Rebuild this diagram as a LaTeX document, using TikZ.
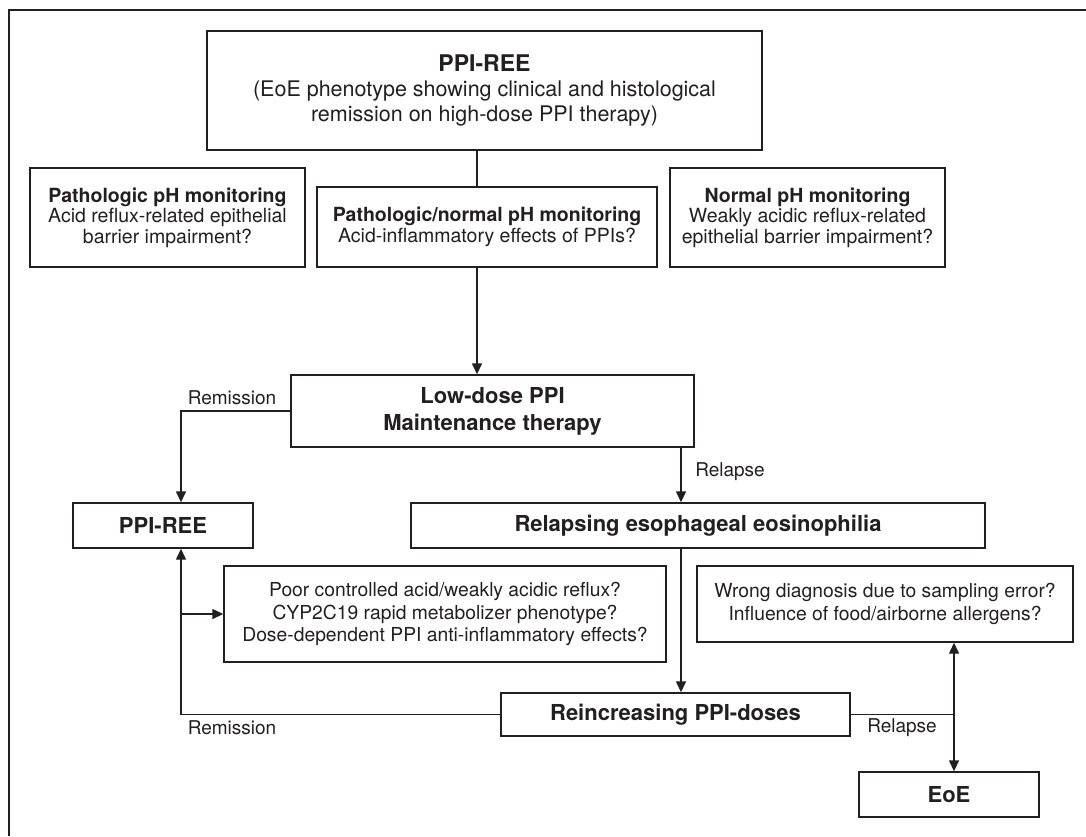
\documentclass[tikz,border=0pt]{standalone}
\usepackage{fontspec}
\setmainfont{TeX Gyre Heros}
\usepackage{tikz}
\usepackage{xcolor}
\usetikzlibrary{arrows.meta}
\definecolor{ink}{HTML}{231F20}

\begin{document}
\begin{tikzpicture}[x=1pt,y=-1pt,ink,line width=1.4pt,
  box/.style={draw,align=center,inner sep=0pt},
  mainbox/.style={box,font=\fontsize{22}{27}\selectfont\bfseries},
  phbox/.style={box,font=\fontsize{19.5}{20.5}\selectfont},
  qbox/.style={box,font=\fontsize{19.3}{22.5}\selectfont},
  lbl/.style={font=\fontsize{19}{22}\selectfont,inner sep=0pt},
  arr/.style={-{Triangle[length=11pt,width=10pt]}}]
\useasboundingbox (0,0) rectangle (1086,836);
\draw[line width=2pt] (9,836) -- (9,10) -- (1086,10);

% top of the chart
\node [box,minimum width=555pt,minimum height=119pt,
  font=\fontsize{21.5}{25}\selectfont] (ppiree) at (484.5,90.5)
  {{\fontsize{23}{25}\selectfont\bfseries PPI-REE}\\
   (EoE phenotype showing clinical and histological\\
   remission on high-dose PPI therapy)};
\node [phbox,minimum width=275pt,minimum height=99pt] (pathL) at (167.5,217.5)
  {\textbf{Pathologic pH monitoring}\\Acid reflux-related epithelial\\barrier impairment?};
\node [phbox,minimum width=340pt,minimum height=80pt] (pathM) at (487,227)
  {\textbf{Pathologic/normal pH monitoring}\\Acid-inflammatory effects of PPIs?};
\node [phbox,minimum width=275pt,minimum height=99pt] (normR) at (807.5,217.5)
  {\textbf{Normal pH monitoring}\\Weakly acidic reflux-related\\epithelial barrier impairment?};

% follow-up
\node [mainbox,minimum width=403pt,minimum height=72pt] (lowdose) at (492.5,411)
  {Low-dose PPI\\Maintenance therapy};
\node [mainbox,minimum width=180pt,minimum height=45pt] (reeL) at (163,525.5) {PPI-REE};
\node [mainbox,minimum width=574pt,minimum height=45pt] (relapsing) at (698,525.5)
  {Relapsing esophageal eosinophilia};
\node [qbox,minimum width=442pt,minimum height=96pt] (qL) at (445,614)
  {Poor controlled acid/weakly acidic reflux?\\CYP2C19 rapid metabolizer phenotype?\\Dose-dependent PPI anti-inflammatory effects?};
\node [qbox,minimum width=376pt,minimum height=76pt] (qR) at (885,604)
  {Wrong diagnosis due to sampling error?\\Influence of food/airborne allergens?};
\node [mainbox,minimum width=349pt,minimum height=43pt] (reinc) at (675.5,714.5)
  {Reincreasing PPI-doses};
\node [mainbox,minimum width=180pt,minimum height=45pt] (eoe) at (949,794.5) {EoE};

% labels
\node [lbl] (rem1) at (232,398) {Remission};
\node [lbl] (rel1) at (730,472) {Relapse};
\node [lbl] (rem2) at (232,728) {Remission};
\node [lbl] (rel2) at (902,728) {Relapse};

% connectors
\coordinate (spine) at (477,0);
\coordinate (leftbus) at (181,0);
\coordinate (midbus) at (681,0);
\coordinate (rightbus) at (954,0);
\draw (ppiree.south -| spine) -- (pathM.north -| spine);
\draw[arr] (pathM.south -| spine) -- (lowdose.north -| spine);
\draw[arr] (lowdose.west) -| (reeL.north -| leftbus);
\draw[arr] (lowdose.south -| midbus) -- (relapsing.north -| midbus);
\draw[arr] (relapsing.south -| midbus) -- (reinc.north -| midbus);
\draw[arr] (reinc.west) -| (reeL.south -| leftbus);
\draw[arr] (qL.west -| leftbus) -- (qL.west);
\draw (reinc.east) -- (reinc.east -| rightbus);
\draw[arr] (reinc.east -| rightbus) -- (qR.south -| rightbus);
\draw[arr] (reinc.east -| rightbus) -- (eoe.north -| rightbus);
\end{tikzpicture}
\end{document}
